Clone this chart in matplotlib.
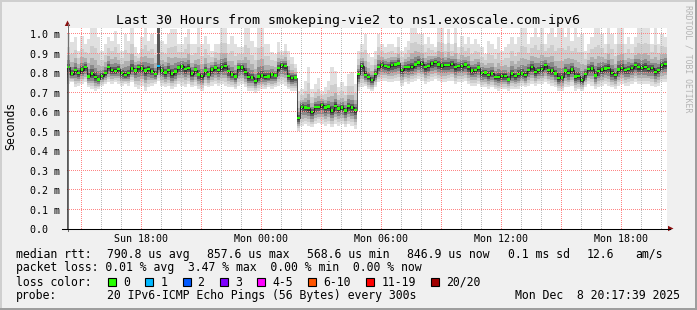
import matplotlib
matplotlib.use("Agg")
import matplotlib.pyplot as plt
import matplotlib.dates as mdates
from matplotlib.ticker import FuncFormatter
from matplotlib.patches import Rectangle, Polygon
from datetime import datetime, timedelta
import numpy as np

# --- data --------------------------------------------------------------
title = "Last 30 Hours from smokeping-vie2 to ns1.exoscale.com-ipv6"
t_start = datetime(2025, 12, 7, 14, 17, 39)
t_end = datetime(2025, 12, 8, 20, 17, 39)
step_min = 10  # one value every 10 minutes

# median rtt in ms
median_ms = [
    .830, .797, .815, .800, .818, .830, .783, .797, .780, .767,
    .786, .800, .830, .816, .810, .820, .800, .790, .800, .824,
    .812, .830, .824, .812, .822, .808, .795, .835, .813, .803,
    .815, .797, .807, .829, .834, .820, .826, .797, .818, .793,
    .785, .812, .792, .818, .829, .815, .830, .837, .810, .793,
    .781, .828, .828, .805, .780, .778, .758, .782, .788, .780,
    .782, .793, .787, .825, .842, .837, .785, .775, .777, .570,
    .627, .622, .620, .600, .627, .625, .635, .623, .628, .607,
    .632, .618, .623, .607, .630, .624, .610, .795, .835, .790,
    .780, .765, .795, .830, .842, .836, .832, .842, .845, .849,
    .815, .830, .830, .832, .845, .855, .847, .830, .835, .849,
    .856, .845, .838, .842, .840, .846, .830, .835, .836, .843,
    .830, .813, .815, .828, .800, .802, .790, .798, .780, .780,
    .786, .786, .768, .797, .785, .795, .797, .790, .815, .830,
    .805, .815, .822, .840, .815, .812, .798, .775, .778, .812,
    .800, .818, .782, .785, .764, .795, .820, .823, .788, .810,
    .818, .824, .826, .800, .790, .818, .825, .815, .820, .825,
    .842, .830, .826, .831, .820, .826, .805, .815, .840, .846,
]

# slowest ping of each interval (top of the smoke), ms
smoke_hi_ms = [
    1.000, .957, .983, .914, .991, .949, .974, 1.031, 1.031, .983,
    .914, .949, .983, .966, 1.017, .949, .914, 1.000, .966, 1.031,
    .931, .897, .983, 1.031, .966, 1.000, .949, 1.031, .966, .949,
    1.000, 1.026, 1.026, .949, .949, .983, 1.026, .949, .949, 1.031,
    .949, .991, .949, .914, .949, .949, 1.031, 1.031, .949, .991,
    .949, .931, .931, 1.031, 1.031, .966, .931, 1.031, 1.031, .949,
    .949, .906, .897, .957, .914, .949, .914, .880, .846, .709,
    .717, .760, .829, .717, .743, .777, .709, .726, .760, .829,
    .812, .726, .752, .735, .795, .803, .743, .914, .949, 1.000,
    .897, .880, .914, 1.000, .949, .931, .949, .949, .931, .983,
    .914, .931, .966, 1.031, 1.031, 1.000, 1.000, .949, .983, .949,
    .931, 1.031, 1.031, .949, 1.026, .949, 1.031, .931, .991, .949,
    .983, .949, .974, .949, .931, .897, .966, .949, .923, .983,
    .914, .931, .949, .983, .949, .983, 1.031, 1.031, .949, .983,
    1.031, .983, 1.031, .949, 1.000, 1.031, .983, 1.031, 1.031, .983,
    1.031, .966, 1.031, .983, 1.000, .914, .949, .983, 1.031, 1.031,
    1.000, .949, 1.031, 1.000, .949, 1.031, 1.031, .949, .983, .949,
    .983, 1.031, 1.031, 1.031, 1.031, .949, 1.031, .949, 1.000, .983,
]

# fastest ping of each interval (bottom of the smoke), ms
smoke_lo_ms = [
    .743, .752, .726, .735, .743, .752, .726, .717, .709, .717,
    .735, .743, .752, .743, .752, .743, .735, .743, .735, .752,
    .726, .717, .735, .709, .726, .735, .743, .760, .735, .726,
    .735, .717, .726, .743, .735, .726, .743, .726, .735, .717,
    .709, .735, .726, .735, .743, .735, .743, .735, .726, .726,
    .717, .735, .743, .726, .709, .709, .700, .709, .717, .717,
    .726, .717, .726, .735, .743, .735, .717, .709, .709, .503,
    .529, .538, .529, .521, .538, .546, .538, .529, .538, .521,
    .538, .529, .538, .521, .538, .529, .512, .709, .726, .735,
    .717, .709, .726, .752, .760, .760, .752, .752, .760, .760,
    .735, .752, .743, .752, .760, .769, .760, .743, .752, .760,
    .769, .760, .752, .752, .760, .760, .743, .752, .752, .760,
    .743, .735, .735, .743, .726, .726, .717, .726, .717, .709,
    .717, .717, .709, .717, .717, .717, .735, .726, .735, .743,
    .735, .743, .743, .752, .743, .735, .726, .709, .709, .726,
    .726, .735, .709, .717, .709, .726, .743, .735, .717, .726,
    .735, .743, .735, .726, .717, .735, .743, .735, .735, .743,
    .752, .743, .743, .743, .743, .735, .726, .735, .752, .752,
]

# intervals with lost packets and how many of 20 were lost
loss_samples = [27]
loss_counts = [1]
# interval where the smoke shoots off the top of the graph
spike_samples = [27]

yticks_ms = [0.0, 0.1, 0.2, 0.3, 0.4, 0.5, 0.6, 0.7, 0.8, 0.9, 1.0]

loss_labels = ["0", "1", "2", "3", "4-5", "6-10", "11-19", "20/20"]
loss_colors = ["#26ff00", "#00b8ff", "#0059ff", "#7e00ff",
               "#ff00ff", "#ff5500", "#ff0000", "#a10000"]

rtt_items = ["median rtt:", "790.8 us avg", "857.6 us max", "568.6 us min",
             "846.9 us now", "0.1 ms sd", "12.6", "am/s"]
loss_line = "packet loss: 0.01 % avg  3.47 % max  0.00 % min  0.00 % now"
probe_text = "20 IPv6-ICMP Echo Pings (56 Bytes) every 300s"
stamp = "Mon Dec  8 20:17:39 2025"

# --- layout helpers (pixel coords, origin top-left) --------------------
W, H = 697, 310
MONO = "DejaVu Sans Mono"
PLOT_W, PLOT_H = 600, 201


def fx(px):
    return px / W


def fy(py):
    return 1 - py / H


fig = plt.figure(figsize=(W / 100, H / 100), dpi=100)
fig.patch.set_facecolor("#f0f0f0")

# 3d-ish frame around the image
fig.patches.append(Rectangle((0, fy(2)), 1, 2 / H, transform=fig.transFigure,
                             color="#cfcfcf", lw=0))
fig.patches.append(Rectangle((0, 0), 2 / W, 1, transform=fig.transFigure,
                             color="#cfcfcf", lw=0))
fig.patches.append(Rectangle((0, 0), 1, 2 / H, transform=fig.transFigure,
                             color="#9e9e9e", lw=0))
fig.patches.append(Rectangle((fx(695), 0), 2 / W, 1, transform=fig.transFigure,
                             color="#9e9e9e", lw=0))

ax = fig.add_axes([fx(67), fy(229), PLOT_W / W, PLOT_H / H])
ax.set_facecolor("white")

n = len(median_ms)
med = np.array(median_ms)
hi = np.array(smoke_hi_ms)
lo = np.array(smoke_lo_ms)
times = [t_start + timedelta(minutes=step_min / 2 + step_min * i) for i in range(n)]
edges = mdates.date2num([t_start + timedelta(minutes=step_min * i) for i in range(n + 1)])
centers = mdates.date2num(times)

ax.set_xlim(t_start, t_end)
ax.set_ylim(0, 1.031)

# smoke: outer envelope then darker shades towards the median;
# each shade reaches a share of the way out to the slowest/fastest ping
ax.stairs(hi, edges, baseline=lo, fill=True, color="#e0e0e0", lw=0, zorder=1)
shades = [  # (fixed up, share of upper spread, share of lower spread, colour)
    (0.012, 0.55, 0.80, "#cdcdcd"),
    (0.010, 0.30, 0.62, "#b0b0b0"),
    (0.008, 0.16, 0.45, "#8a8a8a"),
    (0.006, 0.07, 0.28, "#5c5c5c"),
    (0.004, 0.02, 0.14, "#383838"),
]
for c0, fu, fd, col in shades:
    top = np.minimum(hi, med + c0 + fu * (hi - med))
    bot = med - fd * (med - lo)
    ax.stairs(top, edges, baseline=bot, fill=True, color=col, lw=0, zorder=1)

for i in spike_samples:
    ax.bar(times[i], ax.get_ylim()[1] - med[i], bottom=med[i],
           width=step_min / 1440, color="#555555", lw=0, zorder=1.5)

# median line + loss-coloured dots
ax.stairs(med, edges, color="#111111", lw=0.5, zorder=3)
dot_colors = [loss_colors[0]] * n
for i, c in zip(loss_samples, loss_counts):
    dot_colors[i] = loss_colors[min(c, 7)]
ax.scatter(centers, med, marker="s", s=3.2, c=dot_colors, lw=0, zorder=4)

# ticks
ax.xaxis.set_major_locator(mdates.HourLocator(byhour=range(0, 24, 3)))
ax.xaxis.set_minor_locator(mdates.HourLocator())


def xfmt(x, pos):
    d = mdates.num2date(x)
    return d.strftime("%a %H:%M") if d.hour % 6 == 0 else ""


ax.xaxis.set_major_formatter(FuncFormatter(xfmt))
ax.set_yticks(yticks_ms)
ax.set_yticklabels(["%3.1f %s" % (v, "m" if v > 0 else " ") for v in yticks_ms])

# rrdtool style dotted grid (1 px on / 1 px off), laid over the plot as a
# pixel exact overlay so the dots stay crisp
RED_DOT = (1.0, 0.52, 0.52, 1.0)
GREY_DOT = (0.74, 0.74, 0.74, 1.0)
grid_img = np.zeros((PLOT_H, PLOT_W, 4))
ox, oy = ax.transAxes.transform((0, 0))
for v in ax.get_yticks()[1:]:
    r = int(round(ax.transData.transform((0, v))[1] - oy))
    if 0 <= r < PLOT_H:
        grid_img[r, ::2] = RED_DOT
xmaj = ax.xaxis.get_majorticklocs()
xmin = ax.xaxis.get_minorticklocs()
for locs, col in ((xmin, GREY_DOT), (xmaj, RED_DOT)):
    for v in locs:
        c = int(ax.transData.transform((v, 0))[0] - ox)
        if 0 <= c < PLOT_W:
            grid_img[::2, c] = col
ax.imshow(grid_img, origin="lower", extent=(0, 1, 0, 1), transform=ax.transAxes,
          interpolation="none", aspect="auto", zorder=2.5)
ax.set_xlim(t_start, t_end)
ax.set_ylim(0, 1.031)

ax.tick_params(axis="both", which="both", length=0)
ax.tick_params(axis="x", pad=3.4, labelsize=7.18, labelfontfamily=MONO)
ax.tick_params(axis="y", pad=26.6, labelsize=7.18, labelfontfamily=MONO)
for lbl in ax.get_yticklabels():
    lbl.set_horizontalalignment("left")

for s in ["top", "right", "bottom", "left"]:
    ax.spines[s].set_visible(False)

# axis lines running a bit past the plot, arrows in dark red
fig.add_artist(plt.Line2D([fx(67.5), fx(67.5)], [fy(231), fy(24)],
                          color="#707070", lw=0.75))
fig.add_artist(plt.Line2D([fx(62), fx(670)], [fy(228.5), fy(228.5)],
                          color="black", lw=0.75))
fig.patches.append(Polygon([(fx(668), fy(225.8)), (fx(668), fy(231.2)), (fx(673.5), fy(228.5))],
                           transform=fig.transFigure, color="#8b1010", lw=0))
fig.patches.append(Polygon([(fx(64.8), fy(26)), (fx(70.2), fy(26)), (fx(67.5), fy(20.5))],
                           transform=fig.transFigure, color="#8b1010", lw=0))

# texts
fig.text(fx(348.5), fy(24), title, family=MONO, size=9.55, ha="center", va="baseline")
fig.text(fx(10.5), fy(126), "Seconds", family=MONO, size=8.3, rotation=90,
         ha="center", va="center")
fig.text(fx(688), fy(59), "RRDTOOL / TOBI OETIKER", family=MONO, size=5.9,
         rotation=270, color="#b4b4b4", ha="center", va="center")

fs = 8.31
cw = 6.95
rtt_x = [16, 107, 207, 307, 406.7, 507.7, 586.7, 635]
for x, s in zip(rtt_x, rtt_items):
    fig.text(fx(x), fy(257.7), s, family=MONO, size=fs, va="baseline")

fig.text(fx(16), fy(271.5), loss_line, family=MONO, size=fs, va="baseline")

fig.text(fx(16), fy(285.5), "loss color:", family=MONO, size=fs, va="baseline")
bx = 108
for lab, col in zip(loss_labels, loss_colors):
    fig.patches.append(Rectangle((fx(bx), fy(285.7)), 8 / W, 8 / H,
                                 transform=fig.transFigure, facecolor=col,
                                 edgecolor="black", lw=0.8))
    fig.text(fx(bx + 15), fy(285.5), lab, family=MONO, size=fs, va="baseline")
    bx += 30.3 + cw * len(lab)

fig.text(fx(16), fy(299.3), "probe:", family=MONO, size=fs, va="baseline")
fig.text(fx(107), fy(299.3), probe_text, family=MONO, size=fs, va="baseline")
fig.text(fx(680), fy(299.3), stamp, family=MONO, size=fs, ha="right", va="baseline")

fig.savefig("out.png", dpi=100, facecolor=fig.get_facecolor())
